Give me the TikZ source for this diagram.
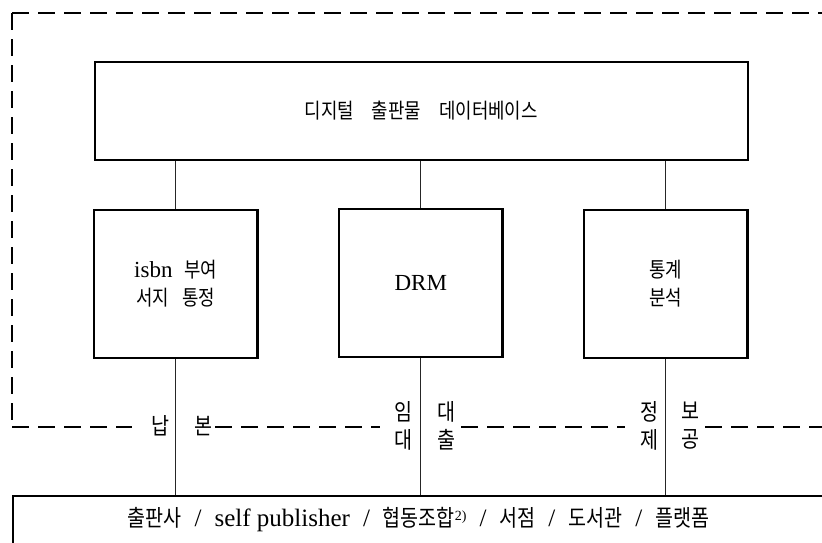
\documentclass[tikz,border=0pt]{standalone}
\usepackage{fontspec}
\setmainfont{Liberation Serif}
\newfontfamily\kr[FakeStretch=0.85]{Noto Sans CJK KR}
\newcommand\slsep{\hspace{13pt}/\hspace{13pt}}
\newcommand\lat[1]{{\fontsize{23}{28}\selectfont #1}}
\newcommand\kb[1]{{\fontsize{23}{28}\selectfont\kr #1}}
\begin{document}
\begin{tikzpicture}[x=1pt,y=-1pt,
  box/.style={draw, line width=2.2pt, inner sep=0pt},
  smallbox/.style={box, minimum width=163.5pt, minimum height=148pt, align=center,
     font=\fontsize{21}{28}\selectfont\kr},
  conn/.style={line width=0.8pt, black!85},
  bound/.style={line width=2.4pt, dash pattern=on 16.5pt off 9.5pt},
  lbl/.style={inner sep=0pt, align=center, font=\fontsize{23}{28}\selectfont\kr}]
\clip (0,0) rectangle (822,542);
% dashed boundary
\draw[bound] (12,13) -- (840,13);
\draw[bound] (12,13) -- (12,427);
\draw[bound] (12,427) -- (131.7,427);
\draw[bound] (215,427) -- (380,427);
\draw[bound] (461,427) -- (625,427);
\draw[bound] (705,427) -- (840,427);
% top box
\node[box, minimum width=653pt, minimum height=98.3pt, font=\fontsize{21}{28}\selectfont\kr]
  (db) at (421.2,110.9) {디지털\hspace{18pt}출판물\hspace{18pt}데이터베이스};
% three boxes
\node[smallbox] (isbn) at (175.8,284) {\lat{\rmfamily isbn}\hspace{12pt}부여\\서지\hspace{13pt}통정};
\node[smallbox] (drm) at (420.8,283) {\lat{\rmfamily DRM}};
\node[smallbox] (stat) at (665.7,284) {통계\\분석};
% bottom box
\node[box, anchor=north west, minimum width=840pt, minimum height=80pt] (pub) at (12,495) {};
\node[inner sep=0pt, font=\fontsize{25}{28}\selectfont] (pubtext) at (418.5,519.5)
  {\kb{출판사}\slsep self publisher\slsep\kb{협동조합}\raisebox{6pt}{\fontsize{14}{14}\selectfont 2)}\slsep\kb{서점}\slsep\kb{도서관}\slsep\kb{플랫폼}};
% connectors
\foreach \n in {isbn,drm,stat}{
  \draw[conn] (\n.north |- db.south) -- (\n.north);
  \draw[conn] (\n.south) -- (\n.south |- pub.north);
}
% labels
\node[lbl, anchor=east] (l1) at (170,426) {납};
\node[lbl, anchor=west] (r1) at (194,426) {본};
\node[lbl, anchor=east] (l2) at (413,426) {임\\대};
\node[lbl, anchor=west] (r2) at (437,426) {대\\출};
\node[lbl, anchor=east] (l3) at (659,426) {정\\제};
\node[lbl, anchor=west] (r3) at (681,426) {보\\공};
\end{tikzpicture}
\end{document}
